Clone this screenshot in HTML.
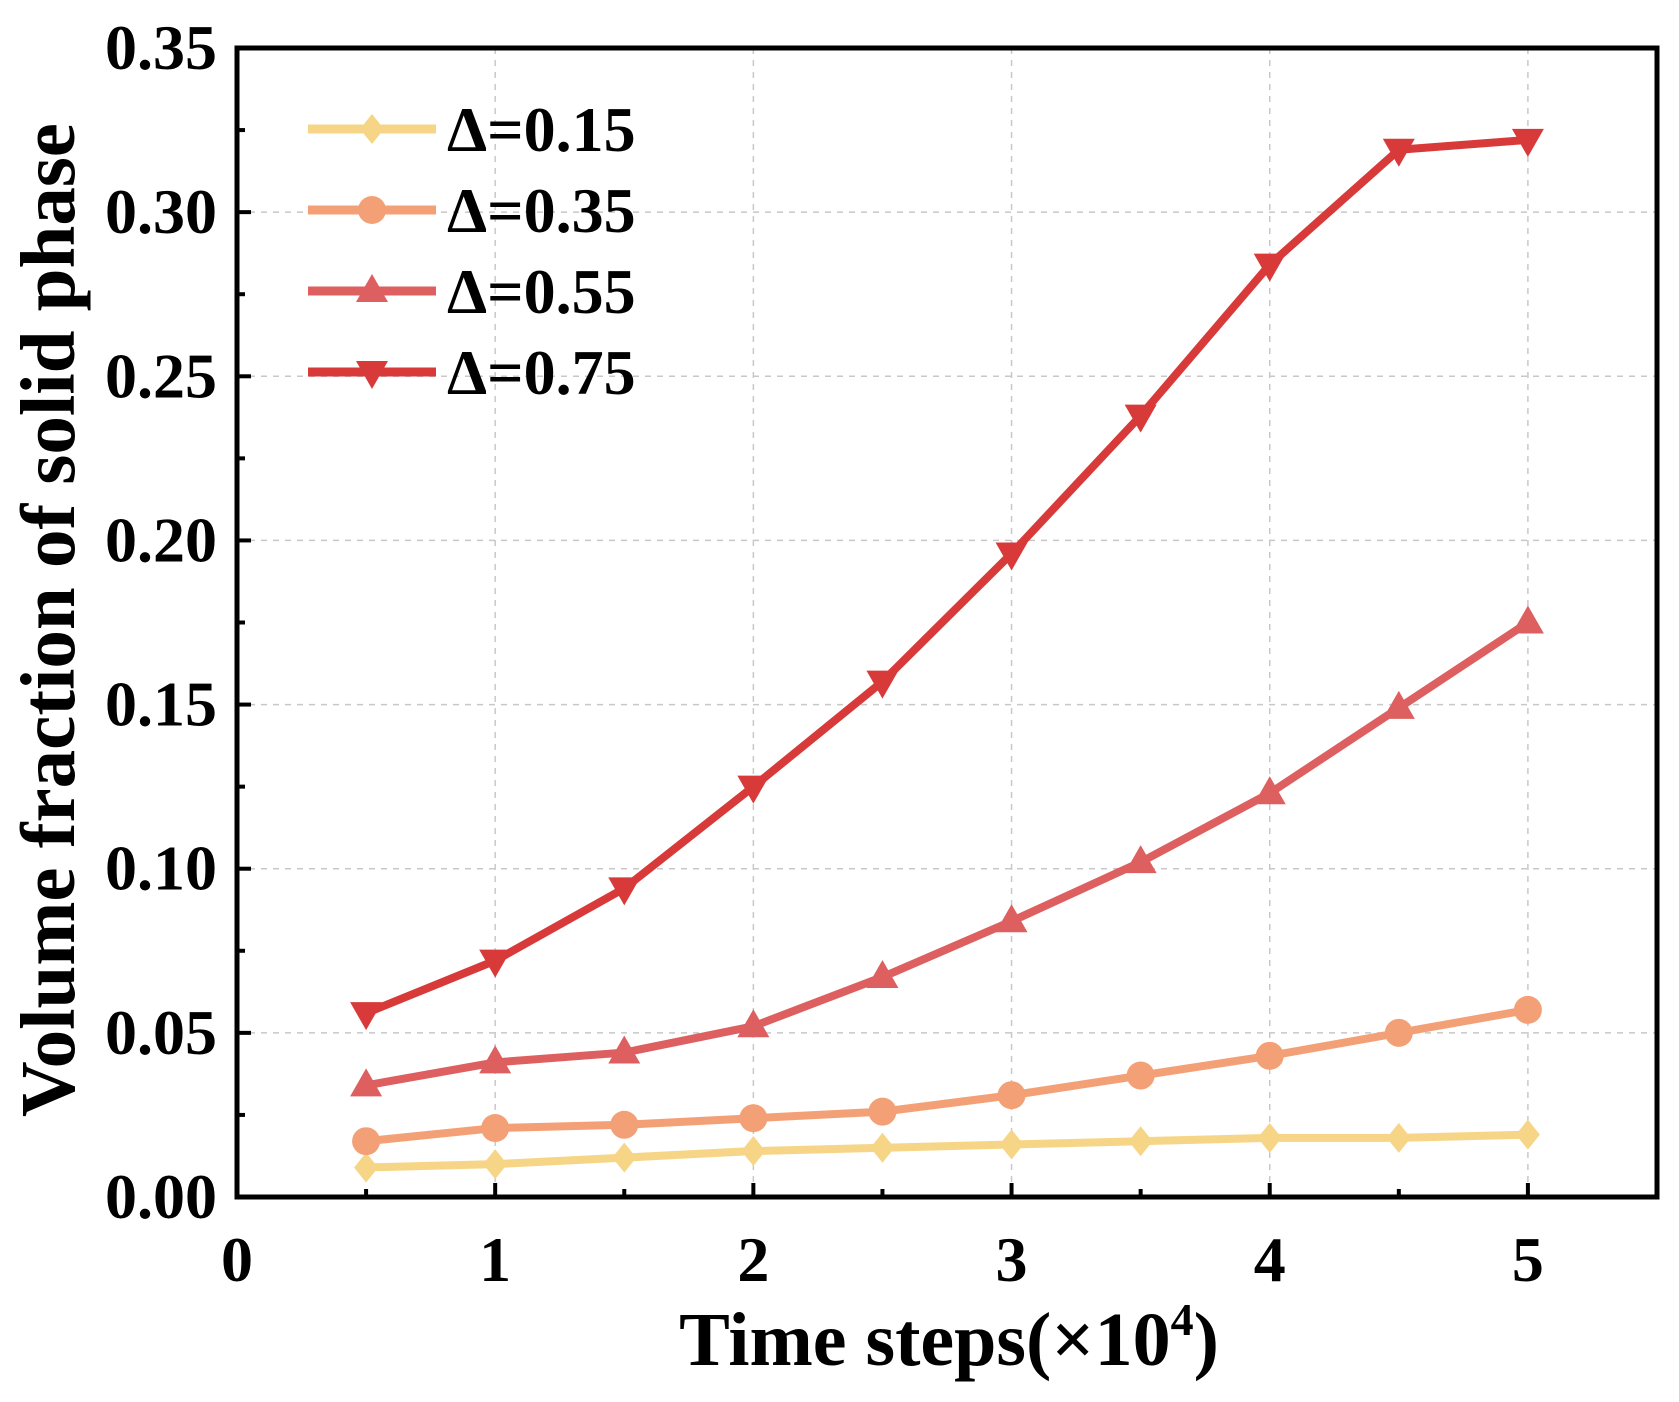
<!DOCTYPE html>
<html><head><meta charset="utf-8"><style>
html,body{margin:0;padding:0;background:#fff;}
svg text{font-family:"Liberation Serif",serif;font-weight:bold;fill:#000;}
</style></head><body>
<svg id="chart" width="1679" height="1397" viewBox="0 0 1679 1397" xmlns="http://www.w3.org/2000/svg">
<g id="grid"></g>
<g id="series"></g>
<g id="axes"></g>
<g id="legend"></g>
<text x="949" y="1365" font-size="76" text-anchor="middle">Time steps(×10<tspan dy="-30" font-size="46">4</tspan><tspan dy="30">)</tspan></text>
<text transform="translate(74,620) rotate(-90)" font-size="77" text-anchor="middle">Volume fraction of solid phase</text>
</svg>
<script>
const xValues = [0.5,1,1.5,2,2.5,3,3.5,4,4.5,5];
const s015 = [0.009,0.010,0.012,0.014,0.015,0.016,0.017,0.018,0.018,0.019];
const s035 = [0.017,0.021,0.022,0.024,0.026,0.031,0.037,0.043,0.050,0.057];
const s055 = [0.034,0.041,0.044,0.052,0.067,0.084,0.102,0.123,0.149,0.175];
const s075 = [0.056,0.072,0.094,0.125,0.157,0.196,0.238,0.284,0.319,0.322];
const seriesLabels = ["Δ=0.15","Δ=0.35","Δ=0.55","Δ=0.75"];
const xTicks = [0,1,2,3,4,5];
const yTicks = [0,0.05,0.10,0.15,0.20,0.25,0.30,0.35];
const yTickLabels = ["0.00","0.05","0.10","0.15","0.20","0.25","0.30","0.35"];

const NS="http://www.w3.org/2000/svg";
const L=237,R=1657,T=48,B=1197;
const X0=0,X1=5.5,Y0=0,Y1=0.35;
const xs=v=>L+(v-X0)/(X1-X0)*(R-L);
const ys=v=>B-(v-Y0)/(Y1-Y0)*(B-T);
function mk(tag,attrs,parent){const e=document.createElementNS(NS,tag);for(const k in attrs)e.setAttribute(k,attrs[k]);parent.appendChild(e);return e;}
const grid=document.getElementById('grid'),axes=document.getElementById('axes'),ser=document.getElementById('series'),leg=document.getElementById('legend');

xTicks.forEach(t=>{ if(t>0){const g=mk('line',{x1:xs(t),x2:xs(t),y1:T,y2:B,stroke:'#c8c8c8','stroke-width':1.5,'stroke-dasharray':'6 6'},grid);

}
const tk=mk('line',{x1:xs(t),x2:xs(t),y1:B,y2:B-14,stroke:'#000','stroke-width':4},axes);


const m=mk('line',{x1:xs(t+0.5),x2:xs(t+0.5),y1:B,y2:B-8,stroke:'#000','stroke-width':4},axes);


const lb=mk('text',{x:xs(t),y:B+84,'font-size':64,'text-anchor':'middle'},axes);lb.textContent=t;


});
yTicks.forEach((t,i)=>{ if(t>0&&t<0.35){const g=mk('line',{x1:L,x2:R,y1:ys(t),y2:ys(t),stroke:'#c8c8c8','stroke-width':1.5,'stroke-dasharray':'6 6'},grid);

}
const tk=mk('line',{x1:L,x2:L+14,y1:ys(t),y2:ys(t),stroke:'#000','stroke-width':4},axes);


if(t<0.35){const m=mk('line',{x1:L,x2:L+8,y1:ys(t+0.025),y2:ys(t+0.025),stroke:'#000','stroke-width':4},axes);

}
const lb=mk('text',{x:L-20,y:ys(t)+21,'font-size':64,'text-anchor':'end'},axes);lb.textContent=yTickLabels[i];


});
const frame=mk('rect',{x:L,y:T,width:R-L,height:B-T,fill:'none',stroke:'#000','stroke-width':5},axes);



const colors=['#f6d586','#f4a077','#dd5f5f','#d83a3a'];
const shapes=['diamond','circle','up','down'];
function marker(shape,cx,cy,col,p){let e;
 if(shape==='circle')e=mk('circle',{cx:cx,cy:cy,r:14,fill:col},p);
 else if(shape==='diamond')e=mk('polygon',{points:`${cx},${cy-15} ${cx+12},${cy} ${cx},${cy+15} ${cx-12},${cy}`,fill:col},p);
 else if(shape==='up')e=mk('polygon',{points:`${cx},${cy-17} ${cx+16},${cy+11} ${cx-16},${cy+11}`,fill:col},p);
 else e=mk('polygon',{points:`${cx},${cy+17} ${cx+16},${cy-11} ${cx-16},${cy-11}`,fill:col},p);
 return e;}
const allSeries=[s015,s035,s055,s075];
allSeries.forEach((s,k)=>{
 const g=mk('g',{},ser);
 
 
 const pl=mk('polyline',{points:s.map((v,i)=>xs(xValues[i])+','+ys(v)).join(' '),fill:'none',stroke:colors[k],'stroke-width':8,'stroke-linejoin':'round'},g);
 
 
 s.forEach((v,i)=>{const m=marker(shapes[k],xs(xValues[i]),ys(v),colors[k],g);
 
 });
 const ly=129+k*81;
 const le=mk('g',{},leg);
 
 
 mk('line',{x1:308,x2:436,y1:ly,y2:ly,stroke:colors[k],'stroke-width':9},le);
 marker(shapes[k],372,ly,colors[k],le);
 const t=mk('text',{x:447,y:ly+22,'font-size':64},le);t.textContent=seriesLabels[k];
});
</script>
</body></html>
